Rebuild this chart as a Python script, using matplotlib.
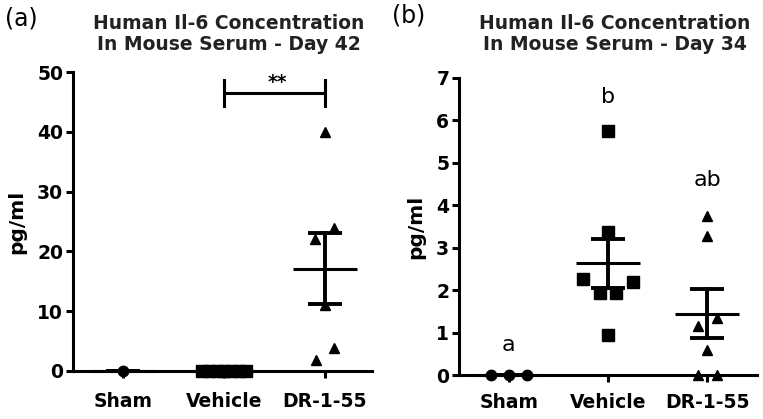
import numpy as np
import matplotlib
matplotlib.use("Agg")
import matplotlib.pyplot as plt

plt.rcParams['font.family'] = ['DejaVu Sans']

groups = ["Sham", "Vehicle", "DR-1-55"]

# panel a, day 42 (pg/ml)
a_sham = [0.0]
a_vehicle = [0.0, 0.0, 0.0, 0.0, 0.0, 0.0, 0.0]
a_dr = [40.0, 24.0, 22.0, 11.0, 1.8, 3.8]
a_sham_dx = [0.0]
a_vehicle_dx = [-0.22, -0.15, -0.07, 0.0, 0.07, 0.15, 0.22]
a_dr_dx = [0.0, 0.09, -0.1, 0.0, -0.09, 0.09]

# panel b, day 34 (pg/ml)
b_sham = [0.0, 0.0, 0.0]
b_vehicle = [5.75, 3.38, 2.27, 2.2, 1.93, 1.93, 0.95]
b_dr = [3.75, 3.27, 1.35, 1.15, 0.6, 0.0, 0.0]
b_sham_dx = [-0.18, 0.0, 0.18]
b_vehicle_dx = [0.0, 0.0, -0.25, 0.25, -0.08, 0.08, 0.0]
b_dr_dx = [0.0, 0.0, 0.1, -0.09, 0.0, -0.09, 0.1]
b_letters = ["a", "b", "ab"]
b_letter_y = [0.7, 6.55, 4.6]

markers = ["o", "s", "^"]
LW = 2.2
FS = 13.5


def scatter_panel(ax, data, dxs, ylim, yticks):
    for i, (vals, dx) in enumerate(zip(data, dxs)):
        x = i + np.array(dx)
        ax.plot(x, vals, linestyle="none", marker=markers[i],
                markersize=9 if markers[i] == "s" else 7.5,
                color="black", clip_on=False, zorder=3)
        v = np.array(vals)
        m = v.mean()
        sem = v.std(ddof=1) / np.sqrt(len(v)) if len(v) > 1 else 0.0
        ax.plot([i - 0.32, i + 0.32], [m, m], color="black", lw=LW,
                solid_capstyle="butt", clip_on=False, zorder=4)
        ax.plot([i, i], [m - sem, m + sem], color="black", lw=LW + 0.6,
                clip_on=False, zorder=4)
        for yy in (m - sem, m + sem):
            ax.plot([i - 0.17, i + 0.17], [yy, yy], color="black", lw=LW + 0.6,
                    solid_capstyle="butt", clip_on=False, zorder=4)
    ax.set_xlim(-0.5, 2.5)
    ax.set_ylim(*ylim)
    ax.set_yticks(yticks)
    ax.set_xticks(range(3))
    ax.set_xticklabels(groups, fontsize=FS, fontweight="bold")
    for lab in ax.get_yticklabels():
        lab.set_fontsize(FS)
        lab.set_fontweight("bold")
    for s in ("top", "right"):
        ax.spines[s].set_visible(False)
    for s in ("left", "bottom"):
        ax.spines[s].set_linewidth(LW)
    ax.tick_params(axis="both", width=LW, length=5, pad=2)
    ax.tick_params(axis="x", pad=10)
    ax.set_ylabel("pg/ml", fontsize=14.5, fontweight="bold", labelpad=8)


fig = plt.figure(figsize=(7.63, 4.19), dpi=100)

ax1 = fig.add_axes([0.0957, 0.1146, 0.3919, 0.7134])
scatter_panel(ax1, [a_sham, a_vehicle, a_dr],
              [a_sham_dx, a_vehicle_dx, a_dr_dx], (0, 50), range(0, 51, 10))
ax1.set_xlim(-0.5, 2.47)
ax1.plot([1, 1, 1, 2, 2, 2], [44.3, 48.7, 46.5, 46.5, 48.7, 44.3],
         color="black", lw=LW, clip_on=False)
ax1.text(1.53, 47.3, "**", ha="center", va="baseline", fontsize=FS,
         fontweight="bold")

ax2 = fig.add_axes([0.6016, 0.105, 0.3904, 0.709])
scatter_panel(ax2, [b_sham, b_vehicle, b_dr],
              [b_sham_dx, b_vehicle_dx, b_dr_dx], (0, 7), range(0, 8))
ax2.tick_params(axis="x", pad=8)
for i, (t, yy) in enumerate(zip(b_letters, b_letter_y)):
    ax2.text(i, yy, t, ha="center", va="center", fontsize=16)

title_a = "Human Il-6 Concentration\nIn Mouse Serum - Day 42"
title_b = "Human Il-6 Concentration\nIn Mouse Serum - Day 34"
fig.text(229 / 763, 0.918, title_a, ha="center", va="center", fontsize=13.5,
         fontweight="bold", linespacing=1.15, color="#222222")
fig.text(615 / 763, 0.918, title_b, ha="center", va="center", fontsize=13.5,
         fontweight="bold", linespacing=1.15, color="#222222")
fig.text(5 / 763, 0.957, "(a)", ha="left", va="center", fontsize=17)
fig.text(392 / 763, 0.962, "(b)", ha="left", va="center", fontsize=17)

fig.savefig("out.png", dpi=100)
